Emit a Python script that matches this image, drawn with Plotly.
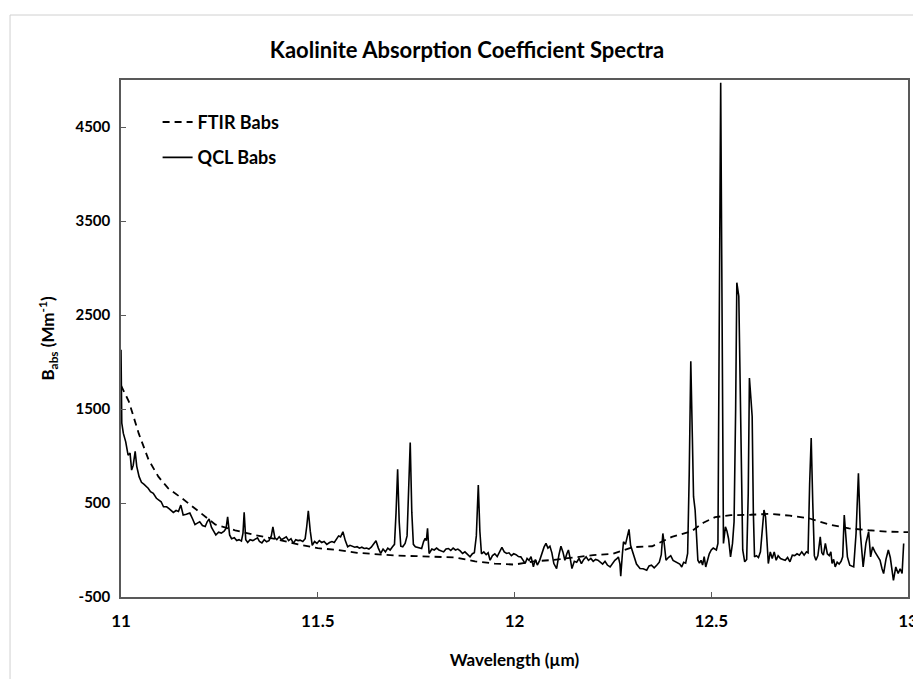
import plotly.graph_objects as go

# FTIR absorption coefficient (dashed)
ftir_wl = [11.00, 11.02, 11.045, 11.07, 11.095, 11.12, 11.155, 11.205, 11.24, 11.29, 11.34,
           11.40, 11.45, 11.50, 11.55, 11.60, 11.65, 11.70, 11.75, 11.80, 11.85, 11.90, 11.95,
           12.00, 12.05, 12.10, 12.15, 12.20, 12.25, 12.30, 12.35, 12.40, 12.45, 12.48, 12.51,
           12.55, 12.60, 12.65, 12.70, 12.75, 12.80, 12.85, 12.90, 12.95, 13.00]
ftir_babs = [1750, 1580, 1240, 960, 780, 655, 550, 390, 270, 210, 160,
             110, 60, 20, 0, -30, -45, -60, -65, -75, -80, -120, -145,
             -155, -120, -105, -80, -55, -40, 30, 40, 140, 200, 290, 350,
             370, 375, 385, 365, 335, 270, 230, 210, 195, 190]

# QCL absorption coefficient (solid)
qcl_wl = [11.000, 11.002, 11.006, 11.012, 11.018, 11.023, 11.027, 11.031, 11.036, 11.040,
          11.046, 11.052, 11.058, 11.064, 11.069, 11.075, 11.082, 11.090, 11.096, 11.102,
          11.108, 11.116, 11.122, 11.133, 11.140, 11.146, 11.152, 11.158, 11.166, 11.175,
          11.182, 11.188, 11.194, 11.200, 11.207, 11.214, 11.219, 11.224, 11.230, 11.235,
          11.241, 11.248, 11.255, 11.262, 11.267, 11.271, 11.276, 11.281, 11.288, 11.294,
          11.300, 11.306, 11.310, 11.313, 11.317, 11.322, 11.328, 11.335, 11.341, 11.347,
          11.352, 11.358, 11.364, 11.370, 11.376, 11.382, 11.386, 11.391, 11.396, 11.402,
          11.408, 11.414, 11.420, 11.426, 11.432, 11.438, 11.444, 11.450, 11.455, 11.462,
          11.468, 11.472, 11.476, 11.481, 11.486, 11.492, 11.498, 11.504, 11.510, 11.516,
          11.523, 11.530, 11.536, 11.542, 11.548, 11.553, 11.558, 11.564, 11.570, 11.576,
          11.582, 11.588, 11.594, 11.600, 11.606, 11.612, 11.618, 11.624, 11.630, 11.636,
          11.642, 11.648, 11.654, 11.660, 11.666, 11.672, 11.678, 11.684, 11.690, 11.695,
          11.699, 11.703, 11.707, 11.711, 11.716, 11.722, 11.727, 11.731, 11.735, 11.739,
          11.743, 11.748, 11.753, 11.758, 11.764, 11.769, 11.773, 11.776, 11.779, 11.783,
          11.790, 11.796, 11.802, 11.808, 11.814, 11.820, 11.826, 11.832, 11.838, 11.844,
          11.850, 11.856, 11.862, 11.868, 11.874, 11.880, 11.887, 11.893, 11.898, 11.903,
          11.908, 11.912, 11.916, 11.922, 11.928, 11.933, 11.938, 11.944, 11.950, 11.956,
          11.962, 11.968, 11.974, 11.980, 11.986, 11.992, 11.998, 12.004, 12.010, 12.016,
          12.022, 12.027, 12.032, 12.037, 12.042, 12.048, 12.053, 12.058, 12.064, 12.070,
          12.075, 12.080, 12.085, 12.090, 12.095, 12.100, 12.107, 12.113, 12.118, 12.123,
          12.128, 12.133, 12.137, 12.142, 12.146, 12.152, 12.158, 12.164, 12.170, 12.176,
          12.182, 12.188, 12.194, 12.200, 12.206, 12.212, 12.218, 12.224, 12.230, 12.236,
          12.243, 12.249, 12.255, 12.261, 12.264, 12.268, 12.270, 12.274, 12.277, 12.282,
          12.286, 12.291, 12.295, 12.299, 12.304, 12.310, 12.319, 12.327, 12.336, 12.342,
          12.348, 12.355, 12.362, 12.368, 12.373, 12.377, 12.381, 12.385, 12.391, 12.397,
          12.403, 12.409, 12.415, 12.420, 12.425, 12.430, 12.435, 12.440, 12.444, 12.448,
          12.452, 12.455, 12.459, 12.463, 12.466, 12.470, 12.474, 12.478, 12.482, 12.486,
          12.490, 12.495, 12.500, 12.505, 12.513, 12.517, 12.524, 12.531, 12.536, 12.540,
          12.544, 12.549, 12.554, 12.558, 12.562, 12.565, 12.570, 12.573, 12.577, 12.580,
          12.585, 12.590, 12.594, 12.597, 12.601, 12.604, 12.607, 12.610, 12.615, 12.620,
          12.625, 12.630, 12.634, 12.638, 12.642, 12.645, 12.650, 12.655, 12.660, 12.665,
          12.670, 12.676, 12.682, 12.688, 12.694, 12.700, 12.706, 12.712, 12.718, 12.724,
          12.730, 12.736, 12.742, 12.746, 12.750, 12.754, 12.758, 12.762, 12.766, 12.771,
          12.777, 12.781, 12.785, 12.790, 12.795, 12.800, 12.804, 12.807, 12.811, 12.815,
          12.820, 12.825, 12.830, 12.834, 12.838, 12.842, 12.846, 12.852, 12.862, 12.868,
          12.874, 12.879, 12.886, 12.893, 12.900, 12.905, 12.910, 12.916, 12.922, 12.929,
          12.934, 12.938, 12.944, 12.950, 12.955, 12.963, 12.969, 12.975, 12.980, 12.985,
          12.989]
qcl_babs = [2130, 1350, 1240, 1150, 1010, 1030, 850, 900, 1050, 890,
            780, 720, 700, 680, 657, 620, 603, 550, 530, 513,
            460, 460, 440, 400, 420, 410, 478, 372, 380, 393,
            330, 270, 286, 300, 260, 250, 300, 330, 240, 200,
            160, 190, 180, 200, 230, 353, 160, 120, 130, 100,
            110, 95, 180, 400, 110, 80, 110, 100, 120, 130,
            90, 75, 110, 87, 100, 150, 247, 130, 110, 140,
            110, 130, 140, 100, 120, 70, 110, 100, 105, 90,
            120, 250, 418, 200, 50, 90, 70, 100, 80, 90,
            60, 80, 90, 80, 120, 150, 140, 194, 100, 34,
            50, 40, 30, 35, 20, 30, 16, 20, 10, 30,
            60, 98, 20, -37, 10, -20, 20, 0, 34, 60,
            400, 860, 300, 40, 34, 70, 150, 600, 1143, 400,
            60, 34, 30, 25, 16, 90, 123, 100, 230, -37,
            10, 0, 20, 0, -10, -20, 10, 16, -5, 20,
            0, 10, -10, -37, -20, -50, -73, -40, -30, 150,
            692, 200, -40, -20, -50, -30, -109, -60, -40, -70,
            -20, 27, -20, -37, -30, -60, -40, -50, -70, -73,
            -110, -144, -90, -110, -70, -180, -100, -160, -110, -20,
            30, 70, 20, 40, -30, -144, -197, -50, 40, -20,
            -109, -40, 0, -100, -197, -120, -130, -90, -144, -100,
            -73, -110, -90, -120, -100, -109, -130, -150, -120, -160,
            -180, -140, -110, -90, -73, -150, -279, -50, 87, 60,
            120, 219, 50, 0, -60, -150, -197, -200, -215, -170,
            -162, -190, -160, -130, -50, 176, 50, -109, -80, -60,
            -110, -126, -140, -150, -180, -130, -140, -37, 800, 2008,
            1200, 567, 425, 100, -109, -140, -110, -160, -70, -180,
            -110, -40, 0, 20, 0, 70, 4970, 70, 247, 200,
            120, -73, 70, 300, 1500, 2844, 2700, 1800, 923, 0,
            -126, -100, 600, 1830, 1600, 1420, 400, -73, -60, -80,
            -20, 200, 425, 353, 50, -144, -20, -90, -20, -109,
            -60, -90, -100, -110, -80, -126, -55, -60, -40, -55,
            -20, -55, -20, -30, 700, 1190, 500, -60, -109, -60,
            140, -30, -55, 70, -40, -60, -20, -144, -100, -180,
            -130, -150, -120, -73, 372, 100, -73, -162, -180, 176,
            817, 176, -180, 70, 194, -73, 34, -20, -60, -109,
            -200, -250, -100, 0, -80, -322, -180, -250, -200, -250,
            70]

y_ticks = [-500, 500, 1500, 2500, 3500, 4500]
y_tick_text = ["-500", "500", "1500", "2500", "3500", "4500"]
x_ticks = [11, 11.5, 12, 12.5, 13]
x_tick_text = ["11", "11.5", "12", "12.5", "13"]

FONT = "Lato"
AX = "#595959"

fig = go.Figure()
fig.add_trace(go.Scatter(x=ftir_wl, y=ftir_babs, mode="lines", name="FTIR Babs",
                         legendgroup="ftir",
                         line=dict(color="black", width=1.8, dash="7px,5px")))
fig.add_trace(go.Scatter(x=qcl_wl, y=qcl_babs, mode="lines", name="QCL Babs",
                         legendgroup="qcl",
                         line=dict(color="black", width=1.6)))

# page body adds an 8px offset; figure is sized/margined to compensate
fig.update_layout(
    width=913, height=671,
    margin=dict(l=113, r=13, t=72, b=82),
    paper_bgcolor="white", plot_bgcolor="white",
    font=dict(family=FONT, color="black", size=16),
    title=dict(text="<b>Kaolinite Absorption Coefficient Spectra</b>",
               xref="container", x=0.5027, xanchor="center",
               yref="container", y=0.9374, yanchor="middle",
               font=dict(family=FONT, size=22, color="black")),
    showlegend=True,
    legend=dict(x=0.0465, y=0.954, xanchor="left", yanchor="top",
                bgcolor="rgba(0,0,0,0)",
                font=dict(family=FONT, size=18, color="black", weight="bold"),
                tracegroupgap=9, itemwidth=30),
    xaxis=dict(range=[11, 13], tickvals=x_ticks, ticktext=x_tick_text, automargin=False,
               showgrid=False, zeroline=False, showline=True, linecolor=AX, linewidth=1.5,
               mirror=True, ticks="inside", ticklen=5, tickcolor=AX, ticklabelstandoff=8,
               tickfont=dict(family=FONT, size=17, color="black", weight="bold"),
               title=dict(text="<b>Wavelength (µm)</b>", standoff=24,
                          font=dict(family=FONT, size=17, color="black"))),
    yaxis=dict(range=[-500, 5000], tickvals=y_ticks, ticktext=y_tick_text, automargin=False,
               showgrid=False, zeroline=False, showline=True, linecolor=AX, linewidth=1.5,
               mirror=True, ticks="inside", ticklen=5, tickcolor=AX, ticklabelstandoff=6,
               tickfont=dict(family=FONT, size=15, color="black", weight="bold"),
               title=dict(text="<b>B<sub>abs</sub> (Mm<sup>-1</sup>)</b>", standoff=16,
                          font=dict(family=FONT, size=17, color="black"))),
)

# light outer chart border (left and top edges visible)
fig.add_shape(type="line", xref="paper", yref="paper", x0=-0.141, x1=1.2, y0=1.1257, y1=1.1257,
              line=dict(color="#d0d0d0", width=1))
fig.add_shape(type="line", xref="paper", yref="paper", x0=-0.141, x1=-0.141, y0=1.1257, y1=-0.3,
              line=dict(color="#d0d0d0", width=1))

fig.write_html("out.html")
